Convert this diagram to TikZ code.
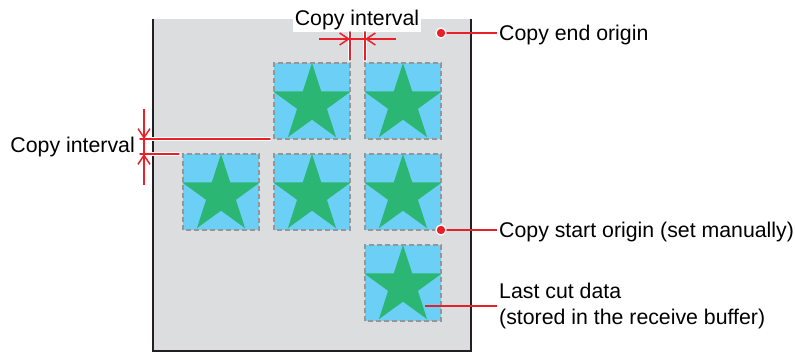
\documentclass[tikz,border=0pt]{standalone}
\usepackage{fontspec}
\setmainfont{Liberation Sans}
\usetikzlibrary{arrows.meta, calc, shapes.geometric}

\begin{document}
\begin{tikzpicture}[x=1pt, y=-1pt, >={Straight Barb[length=9pt, width=12pt]},
    font=\fontsize{21.3}{26}\selectfont,
    tile/.style={fill=tileblue, minimum size=76pt, inner sep=0pt, outer sep=0pt},
    tileedge/.style={draw=edgegray, line width=1.3pt, dash pattern=on 5pt off 3pt},
    starfill/.style={star, star points=5, star point ratio=2.618, minimum size=82pt,
      inner sep=0pt, fill=stargreen},
    ext/.style={draw=white, double=cutred, double distance=1.5pt, line width=1pt, line cap=round},
    dim/.style={cutred, line width=1.5pt},
    lead/.style={cutred, line width=1.5pt},
    dot/.style={circle, fill=cutred, draw=white, line width=1.2pt, minimum size=10pt, inner sep=0pt},
    lbl/.style={inner sep=2pt, text height=15pt, text depth=0pt}]
  % colours
  \definecolor{cutred}{RGB}{232,32,42}
  \definecolor{tileblue}{RGB}{108,207,246}
  \definecolor{stargreen}{RGB}{44,182,115}
  \definecolor{panelgray}{RGB}{220,221,222}
  \definecolor{edgegray}{RGB}{150,150,150}
  \definecolor{framegray}{RGB}{35,31,32}

  \useasboundingbox (0,0) rectangle (795,352);

  % cutting sheet
  \fill[panelgray] (153,19) rectangle (471,351);
  \draw[framegray, line width=1.8pt] (153,19) -- (153,351) -- (471,351) -- (471,19);

  % copies of the cut data
  \foreach \n/\x/\y in {r1b/312/101, r1c/403/101, r2a/221/192, r2b/312/192, r2c/403/192, r3c/403/283} {
    \node[tile] (\n) at (\x,\y) {};
    \node[starfill] (\n s) at (\x,\y+3) {};
    \draw[tileedge] (\n.south west) rectangle (\n.north east);
  }

  % --- copy interval, horizontal ---
  \node[fill=white, inner sep=2pt, text height=15pt, text depth=4.5pt] (hgap) at (357,20.5) {Copy interval};
  \coordinate (hL) at ($(r1b.north east)+(0,-24)$);
  \coordinate (hR) at ($(r1c.north west)+(0,-24)$);
  \draw[ext] ($(r1b.north east)+(0,-3)$) -- ($(r1b.north east)+(0,-31)$);
  \draw[ext] ($(r1c.north west)+(0,-3)$) -- ($(r1c.north west)+(0,-31)$);
  \draw[dim] (hL) -- (hR);
  \draw[dim, ->] ($(hL)+(-31,0)$) -- (hL);
  \draw[dim, ->] ($(hR)+(31,0)$) -- (hR);

  % --- copy interval, vertical ---
  \coordinate (vT) at (144,139);
  \coordinate (vB) at (144,154);
  \draw[ext] ($(r1b.south west)+(-4,0)$) -- (140,139);
  \draw[ext] ($(r2a.north west)+(-4,0)$) -- (140,154);
  \draw[dim] (vT) -- (vB);
  \draw[dim, ->] ($(vT)+(0,-30)$) -- (vT);
  \draw[dim, ->] ($(vB)+(0,31)$) -- (vB);
  \node[anchor=east, inner sep=2pt] (vgap) at (137,147) {Copy interval};

  % origins and last data
  \node[lbl, anchor=west] (endlbl) at (497,33) {Copy end origin};
  \node[lbl, anchor=west] (startlbl) at (497,230) {Copy start origin (set manually)};
  \node[anchor=west, align=left, inner sep=2pt] (lastlbl) at (497,306) {Last cut data\\(stored in the receive buffer)};
  \coordinate (lastpt) at ($(r3c.center)+(22,23)$);

  \draw[lead] (441,33) -- (endlbl.west);
  \draw[lead] (r2c.south east) -- (startlbl.west);
  \draw[lead] (lastpt) -- (lastlbl.west);
  \node[dot] (enddot) at (441,33) {};
  \node[dot] (startdot) at (r2c.south east) {};

\end{tikzpicture}
\end{document}
